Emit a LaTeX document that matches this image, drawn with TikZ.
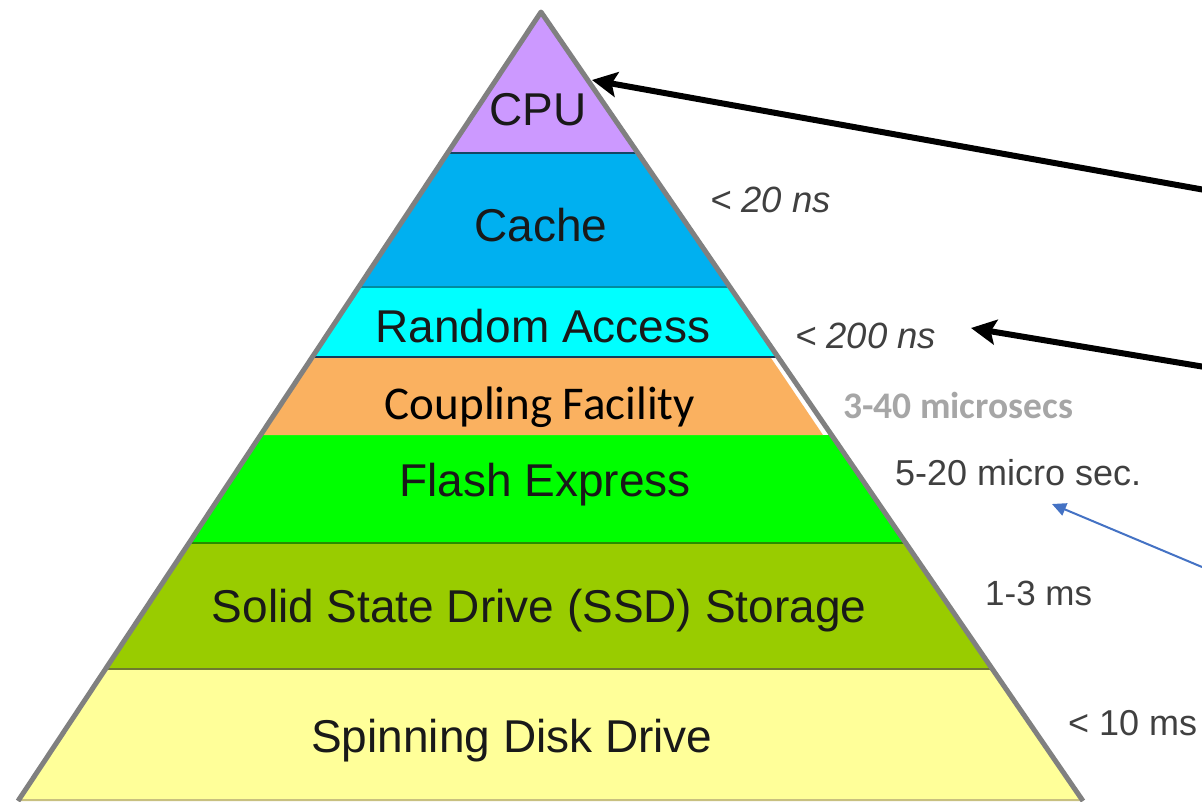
\documentclass[tikz,border=0pt]{standalone}
\usepackage{fontspec}
\setmainfont{Liberation Sans}
\newfontfamily\calib{Carlito}
\usetikzlibrary{arrows.meta}
\definecolor{cpuC}{HTML}{CC99FF}
\definecolor{cacheC}{HTML}{00B0F0}
\definecolor{ramC}{HTML}{00FFFF}
\definecolor{cfC}{HTML}{FAB160}
\definecolor{flashC}{HTML}{00FF00}
\definecolor{ssdC}{HTML}{99CC00}
\definecolor{diskC}{HTML}{FFFF99}
\definecolor{edgeC}{HTML}{808080}
\definecolor{latC}{HTML}{404040}
\definecolor{cfLatC}{HTML}{A6A6A6}
\definecolor{blueArr}{HTML}{4472C4}
\tikzset{
  bandtext/.style={anchor=base, inner sep=0pt, text=black!90,
    font=\fontsize{46}{52}\selectfont},
  lattext/.style={anchor=base west, inner sep=0pt, text=latC,
    font=\fontsize{36}{40}\selectfont},
  sepline/.style={line width=2pt},
  bigarrow/.style={line width=6pt, -{Stealth[length=25pt,width=25pt,inset=5pt]}},
  thinarrow/.style={draw=blueArr, line width=2pt, -{Triangle[length=14pt,width=13pt]}}
}
\begin{document}
\begin{tikzpicture}[x=1pt,y=-1pt]
\useasboundingbox (0,0) rectangle (1202,801);
\fill[white] (0,0) rectangle (1202,801);

% pyramid corners
\coordinate (apex) at (541,12);
\coordinate (bl) at (18,801);
\coordinate (br) at (1083,801);

% coloured tiers
\begin{scope}
  \clip (apex) -- (br) -- (bl) -- cycle;
  \fill[cpuC]   (0,0)   rectangle (1202,153);
  \fill[cacheC] (0,153) rectangle (1202,287);
  \fill[ramC]   (0,287) rectangle (1202,357);
  \fill[flashC] (0,435) rectangle (1202,543);
  \fill[ssdC]   (0,543) rectangle (1202,669);
  \fill[diskC]  (0,669) rectangle (1202,801);
  \draw[sepline, draw={rgb,255:red,20;green,70;blue,100}] (0,153) -- (1202,153);
  \draw[sepline, draw={rgb,255:red,0;green,140;blue,160}] (0,287) -- (1202,287);
  \draw[sepline, draw={rgb,255:red,20;green,60;blue,90}] (0,357) -- (1202,357);
  \draw[sepline, draw={rgb,255:red,40;green,140;blue,0}] (0,543) -- (1202,543);
  \draw[sepline, draw={rgb,255:red,110;green,122;blue,48}] (0,669) -- (1202,669);
  \draw[line width=3pt, draw={rgb,255:red,200;green,192;blue,128}] (0,800) -- (1202,800);
\end{scope}

% coupling facility tier
\fill[cfC] (313,358) -- (771,358) -- (823,435) -- (261,435) -- cycle;

% pyramid outline
\draw[edgeC, line width=5pt, line join=round] (bl) -- (apex) -- (br);

% tier labels
\node[bandtext] (cpu)   at (538,125) {CPU};
\node[bandtext] (cache) at (541,241) {Cache};
\node[bandtext] (ram)   at (543,342) {Random Access};
\node[bandtext, font=\calib\fontsize{47}{52}\selectfont, text=black] (cf) at (540,419) {Coupling Facility};
\node[bandtext] (flash) at (545,496) {Flash Express};
\node[bandtext] (ssd)   at (539,622) {Solid State Drive (SSD) Storage};
\node[bandtext] (disk)  at (512,752) {Spinning Disk Drive};

% latency labels
\node[lattext, font=\itshape\fontsize{36.5}{40}\selectfont] (l20)  at (710,212) {< 20 ns};
\node[lattext, font=\itshape\fontsize{36.5}{40}\selectfont] (l200) at (795,348) {< 200 ns};
\node[lattext, text=cfLatC, font=\calib\bfseries\fontsize{37.5}{40}\selectfont] (lcf) at (843,418) {3-40 microsecs};
\node[lattext, text=black!75] (lflash) at (895,485) {5-20 micro sec.};
\node[lattext, font=\fontsize{35}{40}\selectfont] (lssd)  at (985,605) {1-3 ms};
\node[lattext] (ldisk) at (1068,735) {< 10 ms};

% pointer arrows
\coordinate (p1s) at (1205,190);
\coordinate (p1e) at (592,80);
\coordinate (p2s) at (1205,367);
\coordinate (p2e) at (971,328);
\coordinate (p3s) at (1202,567);
\coordinate (p3e) at (1052,504);
\draw[bigarrow] (p1s) -- (p1e);
\draw[bigarrow] (p2s) -- (p2e);
\draw[thinarrow] (p3s) -- (p3e);
\end{tikzpicture}
\end{document}
